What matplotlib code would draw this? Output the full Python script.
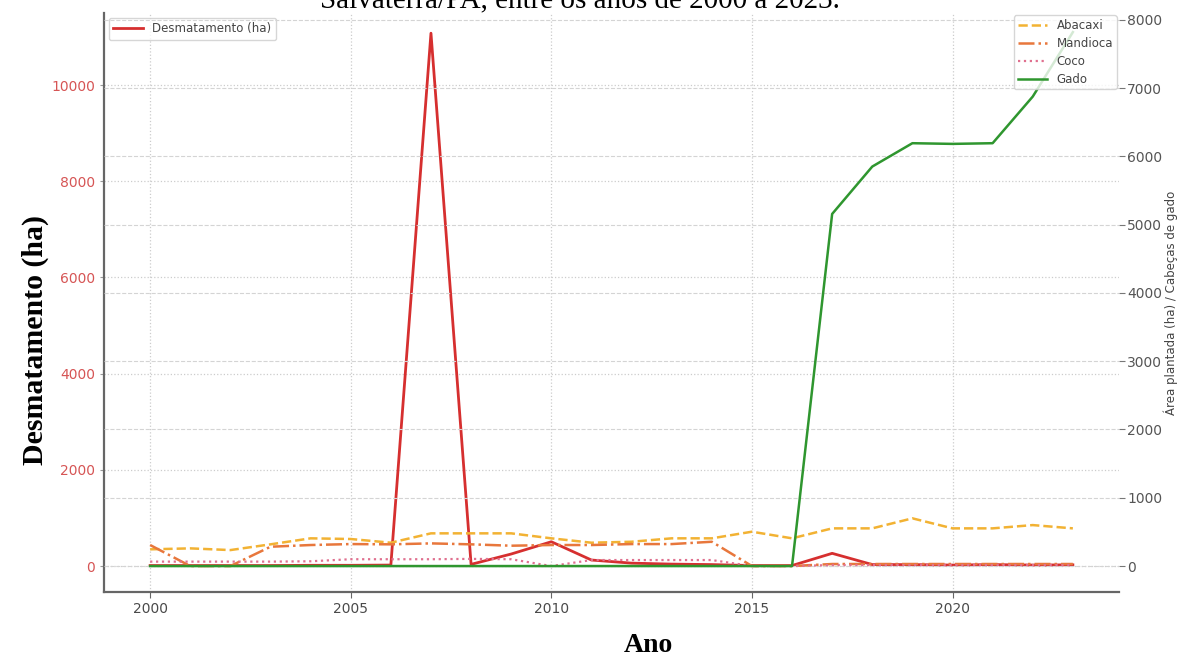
import matplotlib
matplotlib.use("Agg")
import matplotlib.pyplot as plt

# Annual series, 2000-2023
anos = list(range(2000, 2024))
desmatamento = [10, 10, 10, 10, 15, 15, 20, 11080, 35, 250, 505, 125, 60, 40, 30, 10,
                10, 264, 30, 30, 20, 30, 20, 25]
abacaxi = [245, 259, 234, 318, 406, 396, 342, 479, 479, 479, 406, 342, 356, 406, 406, 503,
           406, 552, 552, 699, 552, 552, 600, 552]
mandioca = [308, 0, 0, 283, 308, 322, 318, 332, 318, 298, 308, 308, 322, 322, 356, 0,
            0, 30, 30, 30, 30, 30, 30, 30]
coco = [65, 65, 65, 65, 70, 100, 100, 100, 105, 100, 0, 88, 88, 88, 88, 0,
        0, 15, 15, 15, 15, 15, 15, 15]
gado = [0, 0, 0, 0, 0, 0, 0, 0, 0, 0, 0, 0, 0, 0, 0, 0,
        0, 5157, 5851, 6193, 6183, 6193, 6876, 7820]

W, H = 1179, 659
fig = plt.figure(figsize=(W / 100, H / 100), dpi=100)
ax = fig.add_axes([104 / W, 1 - 592 / H, (1119 - 104) / W, (592 - 13) / H])
ax2 = ax.twinx()

ax.grid(True, color="#cccccc", linestyle=":", linewidth=0.9)
ax2.grid(True, axis="y", color="#d4d4d4", linestyle="--", linewidth=0.8)

l_desm, = ax.plot(anos, desmatamento, color="#d62f2f", lw=2, label="Desmatamento (ha)")
l_aba, = ax2.plot(anos, abacaxi, color="#f2b233", lw=1.8, ls="--", label="Abacaxi")
l_man, = ax2.plot(anos, mandioca, color="#e8773c", lw=1.8, ls="-.", label="Mandioca")
l_coco, = ax2.plot(anos, coco, color="#e0708f", lw=1.6, ls=":", label="Coco")
l_gado, = ax2.plot(anos, gado, color="#2f962f", lw=1.8, label="Gado")

ax.set_xlim(1998.85, 2024.15)
ax.set_ylim(-540, 11500)
ax2.set_ylim(-380, 8100)
ax.set_xticks([2000, 2005, 2010, 2015, 2020])
ax.set_yticks(range(0, 10001, 2000))
ax2.set_yticks(range(0, 8001, 1000))

for a in (ax, ax2):
    for s in a.spines.values():
        s.set_visible(False)
for s in ("left", "bottom"):
    ax.spines[s].set_visible(True)
    ax.spines[s].set_color("#666666")
    ax.spines[s].set_linewidth(1.6)

ax.tick_params(axis="x", colors="#666666", labelcolor="#4a4a4a", labelsize=10, length=4)
ax.tick_params(axis="y", colors="#999999", labelcolor="#d65555", labelsize=10, length=3)
ax2.tick_params(axis="y", colors="#777777", labelcolor="#555555", labelsize=10, length=4,
                pad=2)

leg1 = ax.legend(handles=[l_desm], loc="upper left", fontsize=8.5, frameon=True,
                 edgecolor="#cccccc", borderaxespad=0.4, handlelength=2.5)
for t in leg1.get_texts():
    t.set_color("#444444")
leg2 = ax2.legend(handles=[l_aba, l_man, l_coco, l_gado], loc="upper right", fontsize=8.5,
                  frameon=True, edgecolor="#cccccc", borderaxespad=0.2, handlelength=2.5,
                  labelspacing=0.42, borderpad=0.3)
for t in leg2.get_texts():
    t.set_color("#444444")

ax2.set_ylabel("Área plantada (ha) / Cabeças de gado", fontsize=8.5, color="#444444",
               labelpad=1)

serif = "Liberation Serif"
fig.text(35 / W, 1 - 340 / H, "Desmatamento (ha)", rotation=90, ha="center", va="center",
         family=serif, fontsize=21.5, fontweight="bold")
fig.text(648 / W, 1 - 645 / H, "Ano", ha="center", va="center",
         family=serif, fontsize=20, fontweight="bold")
fig.text(580 / W, 1 - 7 / H, "Salvaterra/PA, entre os anos de 2000 a 2023.",
         ha="center", va="baseline", family=serif, fontsize=21)

fig.savefig("out.png", dpi=100)
